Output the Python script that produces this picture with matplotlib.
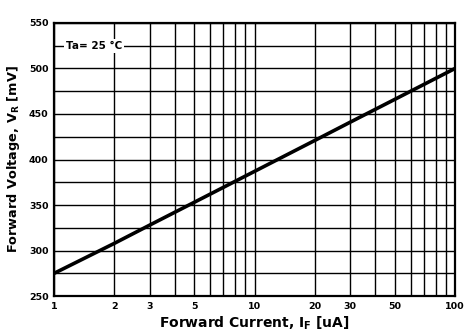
import matplotlib.pyplot as plt
import numpy as np
from matplotlib.ticker import FixedLocator, NullFormatter

plt.rcParams['font.family'] = ['DejaVu Sans']

# forward characteristic
current_ua = [1, 2, 3, 5, 10, 20, 30, 50, 100]
voltage_mv = [275, 308, 328, 353, 387, 421, 441, 466, 500]

x_ticks = [1, 2, 3, 5, 10, 20, 30, 50, 100]
x_labels = ['1', '2', '3', '5', '10', '20', '30', '50', '100']
y_ticks = [250, 300, 350, 400, 450, 500, 550]

fig = plt.figure(figsize=(4.74, 3.32), dpi=100)
ax = fig.add_axes([0.114, 0.108, 0.846, 0.823])

ax.plot(current_ua, voltage_mv, color='black', lw=2.6, solid_capstyle='butt', zorder=3)

ax.set_xscale('log')
ax.set_xlim(1, 100)
ax.set_ylim(250, 550)

ax.xaxis.set_major_locator(FixedLocator(x_ticks))
ax.set_xticklabels(x_labels)
ax.xaxis.set_minor_locator(FixedLocator([4, 6, 7, 8, 9, 40, 60, 70, 80, 90]))
ax.xaxis.set_minor_formatter(NullFormatter())
ax.set_yticks(y_ticks)
ax.set_yticks(np.arange(275, 550, 50), minor=True)

ax.grid(True, which='both', color='black', lw=1.0)
ax.tick_params(which='both', length=0, labelsize=6.8, pad=4)
for t in ax.get_xticklabels() + ax.get_yticklabels():
    t.set_fontweight('bold')
for s in ax.spines.values():
    s.set_linewidth(1.6)

ax.text(0.03, 0.915, 'Ta= 25 °C', transform=ax.transAxes, fontsize=7.5,
        fontweight='bold', va='center', ha='left', zorder=4,
        bbox=dict(facecolor='white', edgecolor='none', pad=1.5))

ax.set_xlabel('Forward Current, I$_\\mathbf{F}$ [uA]', fontsize=10, fontweight='bold', labelpad=2.5)
ax.set_ylabel('Forward Voltage, V$_\\mathbf{R}$ [mV]', fontsize=9.3, fontweight='bold', labelpad=5)

fig.savefig('out.png', dpi=100)
